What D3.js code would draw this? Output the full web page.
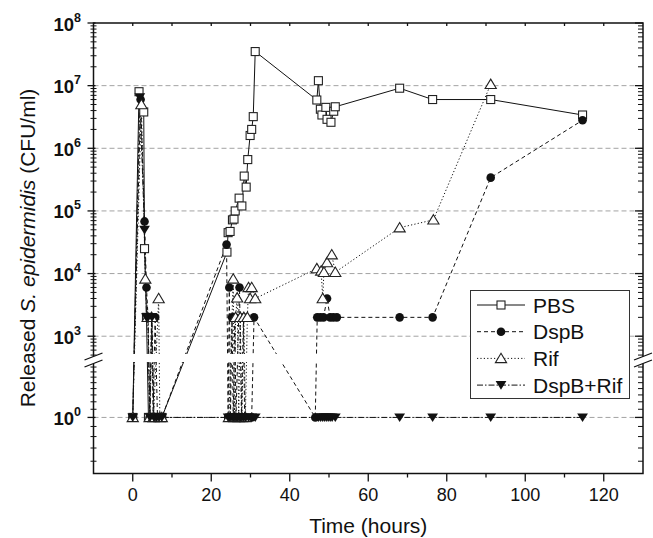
<!DOCTYPE html>
<html lang="en">
<head>
<meta charset="UTF-8">
<title>Released S. epidermidis</title>
<script src="https://cdnjs.cloudflare.com/ajax/libs/d3/7.8.5/d3.min.js"></script>
<style>
body { margin: 0; background: #fff; }
text { font-family: "Liberation Sans", Arial, Helvetica, sans-serif; fill: #111; }
</style>
</head>
<body>
<div id="plot"></div>
<script>
// ---- data (hours, CFU/ml); 1 = below detection ----
var pbsHours = [0, 1.6, 2.8, 3.0, 3.5, 4.0, 4.6, 5.2, 5.8, 6.5, 7.4,
    24.0, 24.3, 24.8, 25.4, 25.8, 26.1, 27.1, 27.8, 28.4, 28.9, 29.3, 29.9, 30.3, 30.7, 31.2,
    46.9, 47.3, 47.8, 48.2, 49.2, 49.5, 50.5, 51.2, 51.6, 68.0, 76.4, 91.2, 114.6];
var pbsCfu = [1, 8e6, 3.8e6, 2.5e4, 2000, 1, 1, 1, 1, 1, 1,
    2.2e4, 4.5e4, 4.7e4, 7.2e4, 7.4e4, 1.0e5, 1.6e5, 1.2e5, 3.6e5, 2.4e5, 6.6e5, 1.6e6, 2.0e6, 3.2e6, 3.5e7,
    5.9e6, 1.2e7, 4.2e6, 3.4e6, 4.5e6, 2.9e6, 2.6e6, 3.9e6, 4.6e6, 9.1e6, 6.0e6, 6.0e6, 3.4e6];

var dspbHours = [0, 2.0, 3.0, 3.5, 3.9, 4.3, 4.8, 5.2, 5.7, 6.3, 7.4,
    23.9, 24.3, 24.6, 24.9, 25.3, 25.6, 26.0, 26.3, 27.2, 27.7, 28.2, 28.5, 30.3, 30.9,
    46.5, 47.0, 47.8, 48.6, 49.5, 50.3, 51.1, 52.0, 68.0, 76.4, 91.2, 114.6];
var dspbCfu = [1, 6e6, 6.8e4, 6000, 2000, 1, 2000, 1, 2000, 1, 1,
    2.9e4, 1, 6000, 1, 2000, 1, 2000, 1, 6000, 1, 2000, 1, 1, 2000,
    1, 2000, 2000, 2000, 4000, 2000, 2000, 2000, 2000, 2000, 3.4e5, 2.8e6];

var rifHours = [0, 2.2, 3.2, 3.8, 4.3, 4.8, 5.3, 6.6, 6.9, 7.4,
    24.5, 25.6, 25.9, 26.2, 26.6, 27.0, 27.4, 27.8, 28.3, 28.7, 29.2, 29.5, 29.9, 30.3, 31.2,
    46.9, 48.0, 48.4, 48.7, 49.5, 50.7, 51.6, 68.0, 76.6, 91.2];
var rifCfu = [1, 5e6, 8200, 2000, 1, 2000, 1, 4000, 1, 1,
    1, 8200, 1, 2000, 4100, 1, 2000, 1, 2000, 1, 2000, 6000, 4000, 6000, 4000,
    1.2e4, 1.1e4, 4000, 1.05e4, 1.5e4, 2.0e4, 1.05e4, 5.4e4, 7.2e4, 1.05e7];

var comboHours = [0, 1.8, 3.0, 3.5, 3.9, 4.4, 4.9, 5.4, 6.0, 6.7, 7.4,
    24.3, 24.8, 25.3, 25.8, 26.3, 26.8, 27.3, 27.8, 28.3, 28.8, 29.5, 30.3, 31.2,
    47.3, 47.8, 48.3, 48.8, 49.3, 49.8, 50.3, 50.8, 51.6, 68.0, 76.4, 91.2, 114.6];
var comboCfu = [1, 6.5e6, 5e4, 2000, 2000, 1, 2000, 1, 1, 1, 1,
    1, 1, 1, 1, 1, 1, 1, 1, 1, 1, 1, 1, 1,
    1, 1, 1, 1, 1, 1, 1, 1, 1, 1, 1, 1, 1];

var seriesNames = ["PBS", "DspB", "Rif", "DspB+Rif"];
var xTicks = [0, 20, 40, 60, 80, 100, 120];
var xMinorTicks = [10, 30, 50, 70, 90, 110];
var yExponents = [3, 4, 5, 6, 7, 8];
var yLowExponents = [0];
var gridValues = [1e3, 1e4, 1e5, 1e6, 1e7, 1];

// ---- layout ----
var W = 653, H = 538;
var L = 93.5, R = 643, T = 23, B = 473.5;

var x = d3.scaleLinear().domain([-10, 130]).range([L, R]);
// broken log axis: upper part from ~500 to 1e8, lower part around 1
var yTop = d3.scaleLog().domain([Math.pow(10, 2.7), 1e8]).range([355, T]);
var yLow = d3.scaleLog().domain([0.52, 2]).range([B, 358]);
function y(v) { return v < 100 ? yLow(v) : yTop(v); }

var svg = d3.select("#plot").append("svg")
    .attr("width", W).attr("height", H);

// dashed grid
svg.append("g").selectAll("line").data(gridValues).enter().append("line")
    .attr("x1", L).attr("x2", R)
    .attr("y1", function(d) { return y(d); })
    .attr("y2", function(d) { return y(d); })
    .attr("stroke", "#a3a3a3").attr("stroke-width", 1)
    .attr("stroke-dasharray", "5,3");

var series = [
    {hours: pbsHours, cfu: pbsCfu, dash: null, sym: "square"},
    {hours: dspbHours, cfu: dspbCfu, dash: "4,3", sym: "circle"},
    {hours: rifHours, cfu: rifCfu, dash: "1.2,2.2", sym: "triangle"},
    {hours: comboHours, cfu: comboCfu, dash: "6,2,1.5,2", sym: "down"}
];

function drawSymbol(g, sym) {
    if (sym == "square") {
        g.append("rect").attr("x", -4).attr("y", -4).attr("width", 8).attr("height", 8)
            .attr("fill", "#fff").attr("stroke", "#222").attr("stroke-width", 1.1);
    } else if (sym == "circle") {
        g.append("circle").attr("r", 4.3).attr("fill", "#111");
    } else if (sym == "triangle") {
        g.append("path").attr("d", "M0,-5.2L5.6,4.2L-5.6,4.2Z")
            .attr("fill", "#fff").attr("stroke", "#222").attr("stroke-width", 1.1);
    } else {
        g.append("path").attr("d", "M-5.4,-4L5.4,-4L0,4.6Z").attr("fill", "#111");
    }
}

var line = d3.line()
    .x(function(d) { return x(d.t); })
    .y(function(d) { return y(d.v); });

var plot = svg.append("g");
series.forEach(function(s) {
    var pts = s.hours.map(function(t, i) { return {t: t, v: s.cfu[i]}; });
    s.pts = pts;
    plot.append("path").datum(pts)
        .attr("d", line)
        .attr("fill", "none").attr("stroke", "#111").attr("stroke-width", 1)
        .attr("stroke-dasharray", s.dash);
});

// gap at the axis break
svg.append("rect").attr("x", L + 1).attr("y", 354).attr("width", R - L - 2).attr("height", 8)
    .attr("fill", "#fff");

series.forEach(function(s) {
    plot.append("g").selectAll("g").data(s.pts).enter().append("g")
        .attr("transform", function(d) { return "translate(" + x(d.t) + "," + y(d.v) + ")"; })
        .each(function() { drawSymbol(d3.select(this), s.sym); });
});

// frame
svg.append("rect").attr("x", L).attr("y", T).attr("width", R - L).attr("height", B - T)
    .attr("fill", "none").attr("stroke", "#111").attr("stroke-width", 1.5);

// x ticks (bottom outward, top inward)
var ax = svg.append("g").attr("stroke", "#111").attr("stroke-width", 1.3);
xTicks.forEach(function(t) {
    ax.append("line").attr("x1", x(t)).attr("x2", x(t)).attr("y1", B).attr("y2", B + 8);
    ax.append("line").attr("x1", x(t)).attr("x2", x(t)).attr("y1", T).attr("y2", T + 3);
});
xMinorTicks.forEach(function(t) {
    ax.append("line").attr("x1", x(t)).attr("x2", x(t)).attr("y1", B).attr("y2", B + 4);
    ax.append("line").attr("x1", x(t)).attr("x2", x(t)).attr("y1", T).attr("y2", T + 3);
});
svg.append("g").selectAll("text").data(xTicks).enter().append("text")
    .attr("x", function(d) { return x(d); }).attr("y", 501)
    .attr("text-anchor", "middle").attr("font-size", 18)
    .text(function(d) { return d; });

// y ticks
var majors = yExponents.map(function(e) { return yTop(Math.pow(10, e)); })
    .concat(yLowExponents.map(function(e) { return yLow(Math.pow(10, e)); }));
var minors = [];
for (var e = 2; e < 8; e++) {
    for (var m = 2; m < 10; m++) {
        var v = m * Math.pow(10, e);
        if (v >= 500) minors.push(yTop(v));
    }
}
[0.6, 0.7, 0.8, 0.9, 1.1, 1.2, 1.3, 1.4, 1.5, 1.6, 1.7, 1.8, 1.9].forEach(function(v) {
    minors.push(yLow(v));
});
majors.forEach(function(py) {
    ax.append("line").attr("x1", L - 6).attr("x2", L + 2).attr("y1", py).attr("y2", py);
    ax.append("line").attr("x1", R - 8).attr("x2", R).attr("y1", py).attr("y2", py);
});
minors.forEach(function(py) {
    ax.append("line").attr("x1", L - 3).attr("x2", L + 3).attr("y1", py).attr("y2", py)
        .attr("stroke-width", 1);
    ax.append("line").attr("x1", R - 5).attr("x2", R).attr("y1", py).attr("y2", py)
        .attr("stroke-width", 1);
});

// y tick labels 10^n
function powLabel(e, py) {
    var t = svg.append("text").attr("x", 81).attr("y", py + 7.5)
        .attr("text-anchor", "end").attr("font-weight", "bold").attr("font-size", 18.5);
    t.append("tspan").text("10");
    t.append("tspan").attr("dy", -9).attr("font-size", 12.5).text(e);
}
yExponents.forEach(function(e) { powLabel(e, yTop(Math.pow(10, e))); });
yLowExponents.forEach(function(e) { powLabel(e, yLow(Math.pow(10, e))); });

// break marks
[L, R].forEach(function(cx) {
    svg.append("path")
        .attr("d", "M" + (cx - 9) + ",360L" + (cx + 9) + ",353L" + (cx + 9) + ",360L" + (cx - 9) + ",367Z")
        .attr("fill", "#fff");
    svg.append("path")
        .attr("d", "M" + (cx - 9) + ",360L" + (cx + 9) + ",353M" + (cx - 9) + ",367L" + (cx + 9) + ",360")
        .attr("stroke", "#111").attr("stroke-width", 1.3).attr("fill", "none");
});

// axis titles
svg.append("text").attr("x", (L + R) / 2).attr("y", 533)
    .attr("text-anchor", "middle").attr("font-size", 21).text("Time (hours)");
var yt = svg.append("text").attr("transform", "translate(35,248) rotate(-90)")
    .attr("text-anchor", "middle").attr("font-size", 21);
yt.append("tspan").text("Released ");
yt.append("tspan").attr("font-style", "italic").text("S. epidermidis");
yt.append("tspan").text(" (CFU/ml)");

// legend
var lg = svg.append("g");
lg.append("rect").attr("x", 470.5).attr("y", 290.5).attr("width", 159).attr("height", 108)
    .attr("fill", "#fff").attr("stroke", "#333").attr("stroke-width", 1);
seriesNames.forEach(function(name, i) {
    var cy = 305 + i * 26.7;
    lg.append("line").attr("x1", 477).attr("x2", 525).attr("y1", cy).attr("y2", cy)
        .attr("stroke", "#111").attr("stroke-width", 1)
        .attr("stroke-dasharray", series[i].dash);
    var g = lg.append("g").attr("transform", "translate(501," + cy + ")");
    drawSymbol(g, series[i].sym);
    lg.append("text").attr("x", 533).attr("y", cy + 7.5).attr("font-size", 21).text(name);
});
</script>
</body>
</html>
